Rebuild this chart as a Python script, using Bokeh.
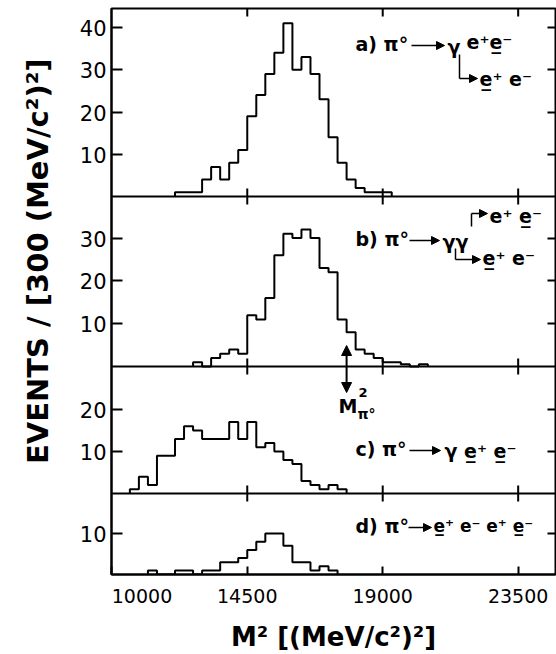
import numpy as np
from bokeh.plotting import figure
from bokeh.models import Range1d, FixedTicker, Arrow, NormalHead
from bokeh.core.properties import value
from bokeh.embed import file_html
from bokeh.resources import INLINE

# ---------------- data ----------------
BIN = 300  # bin width in (MeV/c^2)^2

a_start = 12100
a_counts = [1, 1, 1, 4, 7, 4, 8, 11, 19, 24, 29, 34, 41, 30, 33, 29, 23, 14, 8, 4, 2, 1, 1, 1]

b_start = 12700
b_counts = [1, 0, 2, 3, 4, 3, 12, 11, 16, 26, 31, 30, 32, 30, 23, 22, 11, 8, 4, 3, 2, 1, 1, 0.5, 0, 0.5]

c_start = 10600
c_counts = [1, 4, 2, 9, 9, 13, 16, 15, 13, 13, 13, 17, 13, 17, 11, 12, 10, 8, 7, 3, 2, 1, 2, 1]

d_start = 11200
d_counts = [1, 0, 0, 1, 1, 0, 1, 1, 3, 3, 4, 6, 8, 10, 10, 7, 3, 3, 1, 2, 1]

x_ticks = [10000, 14500, 19000, 23500]
a_yticks = [10, 20, 30, 40]
b_yticks = [10, 20, 30]
c_yticks = [10, 20]
d_yticks = [10]

m_pi0_sq = 17800  # marked position of M^2(pi0)

# ---------------- layout (pixels) ----------------
W, H = 556, 654
LEFT, RIGHT, TOP, BOTTOM = 111, 1, 8, 80
FRAME_W = W - LEFT - RIGHT
FRAME_H = H - TOP - BOTTOM
X0, X1 = 9990, 24740

# panel base (frame pixel units from bottom) and px per event
panels = {
    "a": (378, 4.225),
    "b": (208, 4.28),
    "c": (81, 4.2),
    "d": (0, 4.1),
}

FONT = "DejaVu Sans"


def xd(px):
    return X0 + (px - LEFT) * (X1 - X0) / FRAME_W


def yd(py):
    return (H - BOTTOM) - py


def xlen(dpx):
    return dpx * (X1 - X0) / FRAME_W


def step_xy(start, counts, base, scale):
    counts = np.asarray(counts, dtype=float)
    n = len(counts)
    edges = start + BIN * np.arange(n + 1)
    xs = np.repeat(edges, 2)
    ys = np.concatenate([[0.0], np.repeat(counts, 2), [0.0]])
    return xs, base + ys * scale


p = figure(width=W, height=H, x_range=Range1d(X0, X1), y_range=Range1d(0, FRAME_H),
           output_backend="svg", toolbar_location=None,
           min_border_left=LEFT, min_border_right=RIGHT,
           min_border_top=TOP, min_border_bottom=BOTTOM)
p.grid.visible = False
p.outline_line_color = "black"
p.outline_line_width = 2
p.background_fill_color = "white"
p.border_fill_color = "white"

# x axis (bottom)
xa = p.xaxis[0]
xa.ticker = FixedTicker(ticks=x_ticks)
xa.major_label_overrides = {10000: "\u2007" * 5 + "10000"}
xa.major_tick_in = 8
xa.major_tick_out = 0
xa.minor_tick_line_color = None
xa.axis_line_width = 2
xa.axis_line_color = "black"
xa.major_tick_line_width = 2
xa.major_tick_line_color = "black"
xa.major_label_text_font = FONT
xa.major_label_text_font_size = "19px"
xa.major_label_text_color = "black"
xa.major_label_standoff = 10
xa.axis_label = "M² [(MeV/c²)²]"
xa.axis_label_text_font = FONT
xa.axis_label_text_font_size = "26px"
xa.axis_label_text_font_style = "bold"
xa.axis_label_text_color = "black"
xa.axis_label_standoff = 12

# y axis (left)
ytick_pos = []
overrides = {}
for key, ticks in (("a", a_yticks), ("b", b_yticks), ("c", c_yticks), ("d", d_yticks)):
    base, sc = panels[key]
    for v in ticks:
        pos = int(round(base + v * sc))
        ytick_pos.append(pos)
        overrides[pos] = str(v)

ya = p.yaxis[0]
ya.ticker = FixedTicker(ticks=ytick_pos)
ya.major_label_overrides = overrides
ya.major_tick_in = 11
ya.major_tick_out = 0
ya.minor_tick_line_color = None
ya.axis_line_width = 2
ya.axis_line_color = "black"
ya.major_tick_line_width = 2
ya.major_tick_line_color = "black"
ya.major_label_text_font = FONT
ya.major_label_text_font_size = "21px"
ya.major_label_text_color = "black"
ya.major_label_standoff = 5
ya.major_label_orientation = "horizontal"
ya.axis_label = "\u00a0" * 6 + "EVENTS / [300 (MeV/c²)²]"
ya.axis_label_text_font = FONT
ya.axis_label_text_font_size = "29px"
ya.axis_label_text_font_style = "bold"
ya.axis_label_text_color = "black"
ya.axis_label_standoff = 22

# tick marks on right edge and top edge (drawn as segments, no labels)
tl_x = xlen(8)
p.segment(x0=[X1 - tl_x] * len(ytick_pos), x1=[X1] * len(ytick_pos), y0=ytick_pos, y1=ytick_pos,
          line_color="black", line_width=2)
p.segment(x0=x_ticks[1:], x1=x_ticks[1:], y0=[FRAME_H - 8] * 3, y1=[FRAME_H] * 3,
          line_color="black", line_width=2)

# panel separators and their tick marks
bases = [panels[k][0] for k in ("a", "b", "c")]
p.segment(x0=[X0] * 3, x1=[X1] * 3, y0=bases, y1=bases, line_color="black", line_width=2)
tx, ty0, ty1 = [], [], []
for b in bases:
    for t in x_ticks[1:]:
        tx.append(t)
        ty0.append(b - 8)
        ty1.append(b + 8)
p.segment(x0=tx, x1=tx, y0=ty0, y1=ty1, line_color="black", line_width=2)

# histograms
for key, start, counts in (("a", a_start, a_counts), ("b", b_start, b_counts),
                           ("c", c_start, c_counts), ("d", d_start, d_counts)):
    base, sc = panels[key]
    xs, ys = step_xy(start, counts, base, sc)
    p.line(xs, ys, line_color="black", line_width=2)

# double arrow at M^2(pi0)
p.add_layout(Arrow(x_start=m_pi0_sq, y_start=yd(392), x_end=m_pi0_sq, y_end=yd(345),
                   start=NormalHead(size=10, fill_color="black", line_color="black"),
                   end=NormalHead(size=10, fill_color="black", line_color="black"),
                   line_color="black", line_width=2))


def txt(px, py, s, size="19px", style="bold"):
    p.text(x=[xd(px)], y=[yd(py)], text=[s], text_font=value(FONT), text_font_size=size,
           text_font_style=style, text_baseline="middle", text_align="left", text_color="black")


def arrow(px0, py0, px1, py1):
    p.add_layout(Arrow(x_start=xd(px0), y_start=yd(py0), x_end=xd(px1), y_end=yd(py1),
                       end=NormalHead(size=8, fill_color="black", line_color="black"),
                       line_color="black", line_width=1.5))


def vline(px, py0, py1):
    p.segment(x0=[xd(px)], x1=[xd(px)], y0=[yd(py0)], y1=[yd(py1)],
              line_color="black", line_width=1.5)


# a) pi0 -> gamma e+ e-, gamma -> e+ e-
txt(355, 43, "a) π°")
arrow(411, 45, 444, 45)
txt(447, 46, "γ")
txt(466, 41, "e⁺e̲⁻")
vline(459, 54, 78)
arrow(459, 78, 477, 78)
txt(479, 78, "e̲⁺ e⁻")

# b) pi0 -> gamma gamma, both convert
txt(355, 238, "b) π°")
arrow(409, 240, 439, 240)
txt(442, 241, "γγ")
vline(471, 226, 213)
arrow(471, 213, 487, 213)
txt(489, 215, "e⁺ e̲⁻")
vline(455, 248, 259)
arrow(455, 259, 480, 259)
txt(482, 257, "e̲⁺ e⁻")

# c) Dalitz decay
txt(355, 448, "c) π°")
arrow(409, 450, 440, 450)
txt(444, 450, "γ e̲⁺ e̲⁻")

# d) double Dalitz decay
txt(355, 525, "d) π°")
arrow(408, 527, 431, 527)
txt(433, 525, "e̲⁺ e⁻ e⁺ e̲⁻", "17px")

# M^2_pi0 label
txt(338, 405, "M", "19px")
txt(358, 392, "2", "13px")
txt(357, 413, "π°", "14px")

open("out.html", "w").write(file_html(p, INLINE))
